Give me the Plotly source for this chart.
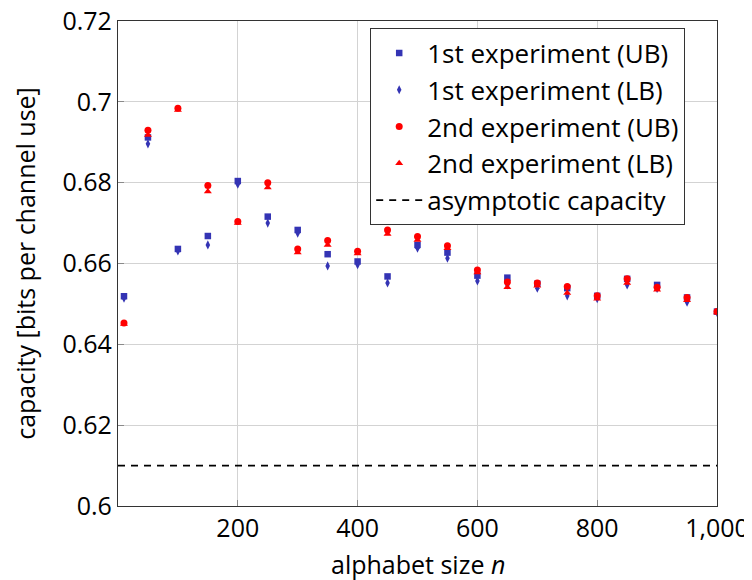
import plotly.graph_objects as go

n = [10, 50, 100, 150, 200, 250, 300, 350, 400, 450, 500, 550, 600, 650, 700, 750, 800, 850, 900, 950, 1000]
exp1_ub = [0.6519, 0.6912, 0.6636, 0.6668, 0.6804, 0.6716, 0.6683, 0.6623, 0.6605, 0.6568, 0.6646, 0.6627,
           0.6570, 0.6565, 0.6550, 0.6539, 0.6520, 0.6562, 0.6547, 0.6516, 0.6481]
exp1_lb = [0.6514, 0.6896, 0.6631, 0.6646, 0.6796, 0.6700, 0.6675, 0.6594, 0.6597, 0.6552, 0.6638, 0.6613,
           0.6557, 0.6547, 0.6539, 0.6520, 0.6513, 0.6547, 0.6538, 0.6504, 0.6479]
exp2_ub = [0.6453, 0.6930, 0.6984, 0.6793, 0.6704, 0.6800, 0.6636, 0.6657, 0.6630, 0.6683, 0.6667, 0.6644,
           0.6584, 0.6554, 0.6552, 0.6543, 0.6520, 0.6562, 0.6541, 0.6516, 0.6481]
exp2_lb = [0.6450, 0.6918, 0.6980, 0.6778, 0.6700, 0.6788, 0.6627, 0.6646, 0.6625, 0.6673, 0.6658, 0.6638,
           0.6578, 0.6541, 0.6545, 0.6527, 0.6513, 0.6552, 0.6535, 0.6509, 0.6479]
asym_n = [0, 1000]
asym_cap = [0.61, 0.61]

x_ticks = [200, 400, 600, 800, 1000]
x_ticklabels = ["200", "400", "600", "800", "1,000"]
y_ticks = [0.6, 0.62, 0.64, 0.66, 0.68, 0.7, 0.72]
y_ticklabels = ["0.6", "0.62", "0.64", "0.66", "0.68", "0.7", "0.72"]
x_title = "alphabet size <i>n</i>"
y_title = "capacity [bits per channel use]"

BLUE = "#3434b4"
RED = "#ff0000"
FONT = "Open Sans"

fig = go.Figure()
fig.add_trace(go.Scatter(x=n, y=exp1_ub, mode="markers", name="1st experiment (UB)",
                         marker=dict(symbol="square", size=6.5, color=BLUE, line=dict(width=0))))
fig.add_trace(go.Scatter(x=n, y=exp1_lb, mode="markers", name="1st experiment (LB)",
                         marker=dict(symbol="diamond-tall", size=6.5, color=BLUE, line=dict(width=0))))
fig.add_trace(go.Scatter(x=n, y=exp2_ub, mode="markers", name="2nd experiment (UB)",
                         marker=dict(symbol="circle", size=7, color=RED, line=dict(width=0))))
fig.add_trace(go.Scatter(x=n, y=exp2_lb, mode="markers", name="2nd experiment (LB)",
                         marker=dict(symbol="triangle-up", size=7, color=RED, line=dict(width=0))))
fig.add_trace(go.Scatter(x=asym_n, y=asym_cap, mode="lines", name="asymptotic capacity",
                         line=dict(color="black", width=1.8, dash="7px,6px")))

axis_common = dict(showline=True, linecolor="#333333", linewidth=1.2, mirror=True,
                   showgrid=True, gridcolor="#d3d3d3", gridwidth=1,
                   ticks="inside", ticklen=6, tickcolor="#8a8a8a", tickwidth=1,
                   zeroline=False, automargin=False, ticklabeloverflow="allow",
                   tickfont=dict(size=25, color="black", family=FONT))

# the page body adds an 8px offset, so the figure is 8px smaller on each side
fig.update_layout(
    width=744, height=572,
    margin=dict(l=110, r=35, t=13, b=74),
    paper_bgcolor="white", plot_bgcolor="white",
    font=dict(family=FONT, size=26, color="black"),
    showlegend=True,
    legend=dict(x=0.4207, y=0.985, xanchor="left", yanchor="top",
                bordercolor="#333333", borderwidth=1.2, bgcolor="white",
                font=dict(size=26, family=FONT), tracegroupgap=0, itemwidth=46),
    xaxis=dict(range=[0, 1000], tickvals=x_ticks, ticktext=x_ticklabels, **axis_common),
    yaxis=dict(range=[0.6, 0.72], tickvals=y_ticks, ticktext=y_ticklabels,
               title=dict(text=y_title, font=dict(size=25, family=FONT), standoff=28),
               **axis_common),
    annotations=[dict(text=x_title, xref="paper", yref="paper", x=0.5, y=-0.12,
                      xanchor="center", yanchor="middle", showarrow=False,
                      font=dict(size=25, family=FONT, color="black"))],
)

fig.write_html("out.html")
